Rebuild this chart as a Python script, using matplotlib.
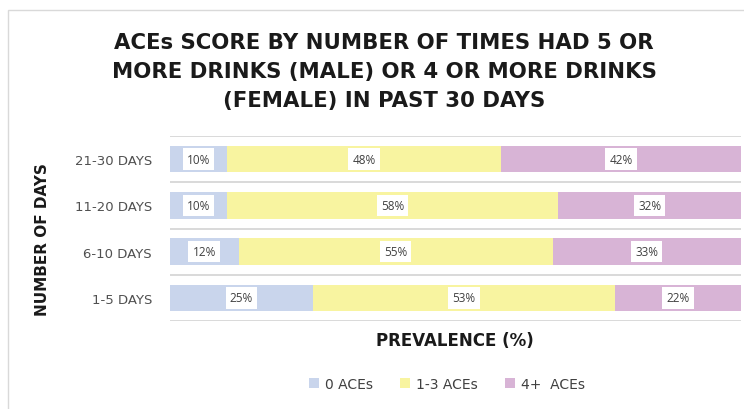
import matplotlib.pyplot as plt
import matplotlib
from matplotlib.patches import Rectangle
import numpy as np

matplotlib.rcParams.update({
    'font.family': ['DejaVu Sans'],
    'font.size': 10,
})

# data
days = ['1-5 DAYS', '6-10 DAYS', '11-20 DAYS', '21-30 DAYS']
aces_0 = [25, 12, 10, 10]
aces_13 = [53, 55, 58, 48]
aces_4 = [22, 33, 32, 42]
series_names = ['0 ACEs', '1-3 ACEs', '4+  ACEs']
colors = ['#c9d5ec', '#f8f4a0', '#d8b4d6']

fig = plt.figure(figsize=(7.44, 4.10), dpi=100)
ax = fig.add_axes([170 / 744, 1 - 322 / 410, 571 / 744, 185 / 410])

# chart border (left and top edges visible)
fig.patches.append(Rectangle((8 / 744, -0.1), 1.2, 1 - 11 / 410 + 0.1,
                             transform=fig.transFigure, fill=False,
                             edgecolor='#d9d9d9', linewidth=1.0))

y = np.arange(len(days))
left = np.zeros(len(days))
for vals, name, col in zip([aces_0, aces_13, aces_4], series_names, colors):
    ax.barh(y, vals, left=left, height=0.57, color=col, label=name)
    for yi, l, v in zip(y, left, vals):
        ax.text(l + v / 2, yi, f'{v}%', ha='center', va='center',
                fontsize=8.5, color='#404040', family='Open Sans',
                bbox=dict(boxstyle='square,pad=0.35', facecolor='white',
                          edgecolor='none'))
    left = left + np.array(vals)

ax.set_xlim(0, 100)
ax.set_ylim(-0.5, len(days) - 0.5)
ax.set_xticks([])
ax.set_yticks(y)
ax.set_yticklabels(days, fontsize=9.5, color='#505050')
ax.tick_params(axis='y', length=0, pad=13)
for b in np.arange(-0.5, len(days), 1.0):
    ax.axhline(b, color='#d9d9d9', linewidth=1.4, zorder=0)
for s in ax.spines.values():
    s.set_visible(False)

fig.text(384 / 744, 1 - 72 / 410,
         'ACEs SCORE BY NUMBER OF TIMES HAD 5 OR\nMORE DRINKS (MALE) OR 4 OR MORE DRINKS\n(FEMALE) IN PAST 30 DAYS',
         ha='center', va='center', fontsize=15.3, fontweight='bold',
         color='#1a1a1a', linespacing=1.58)

fig.text(43 / 744, 1 - 240 / 410, 'NUMBER OF DAYS', rotation=90,
         ha='center', va='center', fontsize=11, fontweight='bold', color='#1a1a1a')
fig.text(455 / 744, 1 - 341 / 410, 'PREVALENCE (%)', ha='center', va='center',
         fontsize=12, fontweight='bold', color='#1a1a1a')

fig.legend(loc='center', bbox_to_anchor=(447 / 744, 1 - 385 / 410), ncol=3,
           frameon=False, fontsize=10, handlelength=0.7, handleheight=0.7,
           handletextpad=0.4, columnspacing=2.0, labelcolor='#404040')

fig.savefig('out.png', dpi=100)
